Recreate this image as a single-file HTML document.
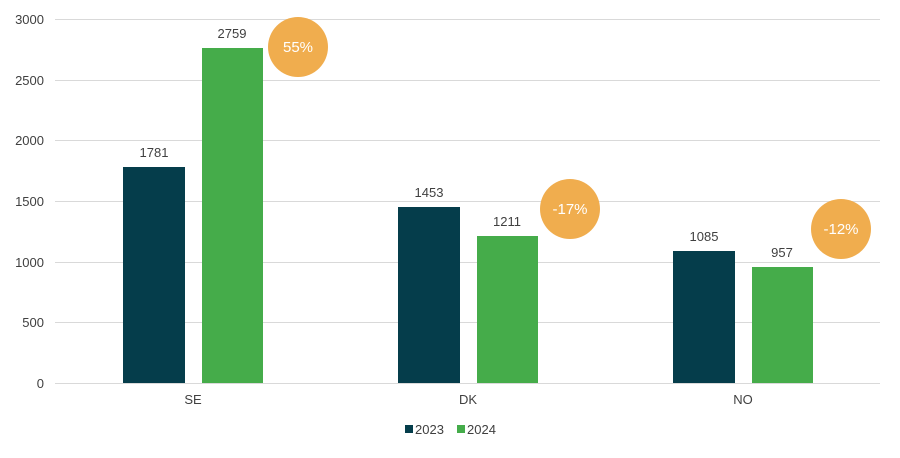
<!DOCTYPE html>
<html><head><meta charset="utf-8"><style>
body{margin:0;background:#fff}
svg text{font-family:"Liberation Sans",sans-serif}
</style></head><body>
<svg width="900" height="453" xmlns="http://www.w3.org/2000/svg">
<g stroke="#d9d9d9" stroke-width="1">
<line x1="55" x2="880" y1="19.5" y2="19.5"/>
<line x1="55" x2="880" y1="80.5" y2="80.5"/>
<line x1="55" x2="880" y1="140.5" y2="140.5"/>
<line x1="55" x2="880" y1="201.5" y2="201.5"/>
<line x1="55" x2="880" y1="262.5" y2="262.5"/>
<line x1="55" x2="880" y1="322.5" y2="322.5"/>
<line x1="55" x2="880" y1="383.5" y2="383.5"/>
</g>
<g font-size="13" fill="#404040" text-anchor="end">
<text x="44" y="24">3000</text>
<text x="44" y="85">2500</text>
<text x="44" y="145">2000</text>
<text x="44" y="206">1500</text>
<text x="44" y="267">1000</text>
<text x="44" y="327">500</text>
<text x="44" y="388">0</text>
</g>
<g fill="#053d4b">
<rect x="123" y="167" width="62" height="216"/>
<rect x="398" y="207" width="62" height="176"/>
<rect x="673" y="251" width="62" height="132"/>
</g>
<g fill="#45ac4a">
<rect x="202" y="48" width="61" height="335"/>
<rect x="477" y="236" width="61" height="147"/>
<rect x="752" y="267" width="61" height="116"/>
</g>
<g font-size="13" fill="#404040" text-anchor="middle">
<text x="154" y="157">1781</text>
<text x="232" y="38">2759</text>
<text x="429" y="197">1453</text>
<text x="507" y="226">1211</text>
<text x="704" y="241">1085</text>
<text x="782" y="257">957</text>
<text x="193" y="404">SE</text>
<text x="468" y="404">DK</text>
<text x="743" y="404">NO</text>
</g>
<g fill="#f0ad4e">
<circle cx="298" cy="47" r="30"/>
<circle cx="570" cy="209" r="30"/>
<circle cx="841" cy="229" r="30"/>
</g>
<g font-size="15" fill="#fff" text-anchor="middle">
<text x="298" y="52">55%</text>
<text x="570" y="214">-17%</text>
<text x="841" y="234">-12%</text>
</g>
<rect x="405" y="425" width="8" height="8" fill="#053d4b"/>
<text x="415" y="434" font-size="13" fill="#404040">2023</text>
<rect x="457" y="425" width="8" height="8" fill="#45ac4a"/>
<text x="467" y="434" font-size="13" fill="#404040">2024</text>
</svg>
</body></html>
